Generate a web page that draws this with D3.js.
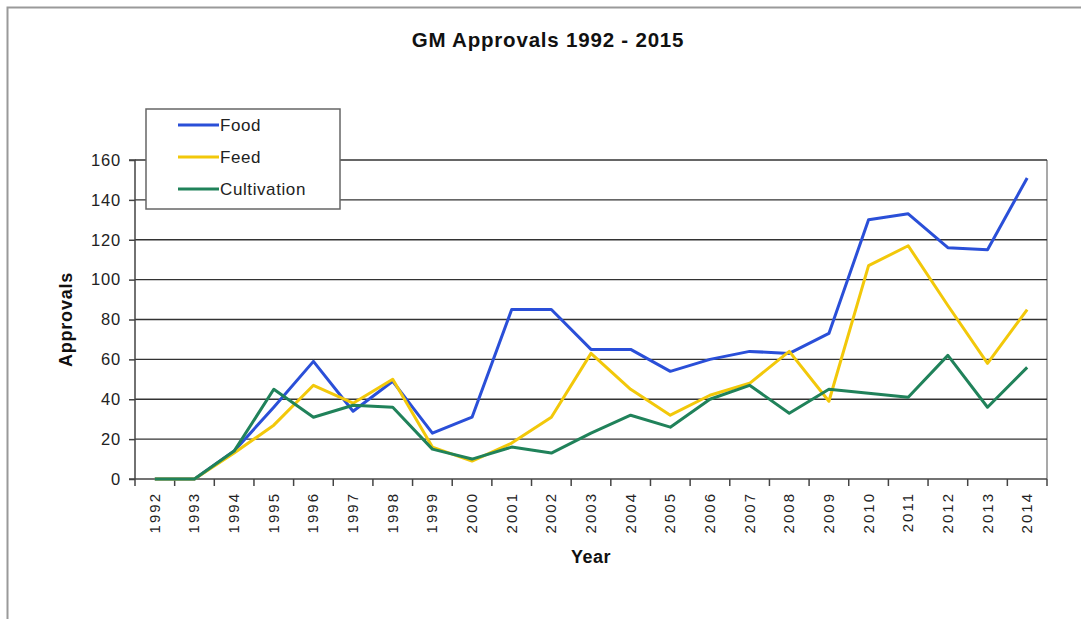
<!DOCTYPE html>
<html>
<head>
<meta charset="utf-8">
<script src="https://cdn.jsdelivr.net/npm/d3@7"></script>
<style>
  body { margin: 0; background: #fff; }
  text { font-family: 'Liberation Sans', Arial, sans-serif; }
</style>
</head>
<body>
<svg id="chart" width="1081" height="619"></svg>
<script>
const years = ['1992','1993','1994','1995','1996','1997','1998','1999','2000','2001','2002','2003',
  '2004','2005','2006','2007','2008','2009','2010','2011','2012','2013','2014']
const food = [0, 0, 14, 36, 59, 34, 49, 23, 31, 85, 85, 65, 65, 54, 60, 64, 63, 73, 130, 133, 116, 115, 151]
const feed = [0, 0, 13, 27, 47, 38, 50, 16, 9, 18, 31, 63, 45, 32, 42, 48, 64, 39, 107, 117, 87, 58, 85]
const cultivation = [0, 0, 14, 45, 31, 37, 36, 15, 10, 16, 13, 23, 32, 26, 40, 47, 33, 45, 43, 41, 62, 36, 56]
const yTicks = [0, 20, 40, 60, 80, 100, 120, 140, 160]

const series = [
  { name: 'Food', values: food, color: '#2a4fd8' },
  { name: 'Feed', values: feed, color: '#f2c80a' },
  { name: 'Cultivation', values: cultivation, color: '#20825a' }
]

const margin = { top: 160, right: 34, bottom: 140, left: 135 }
const width = 1081 - (margin.left + margin.right)
const height = 619 - (margin.top + margin.bottom)

const svg = d3.select('#chart')

// outer frame
svg.append('rect')
  .attr('x', 7.5).attr('y', 7.5)
  .attr('width', 1081).attr('height', 640)
  .attr('fill', 'none')
  .attr('stroke', '#9a9a9a')
  .attr('stroke-width', 2)

const xScale = d3.scaleBand()
  .domain(years)
  .range([margin.left, margin.left + width])

const yScale = d3.scaleLinear()
  .domain([0, 160])
  .range([margin.top + height, margin.top])

// plot frame right side
svg.append('line')
  .attr('x1', margin.left + width).attr('x2', margin.left + width)
  .attr('y1', margin.top).attr('y2', margin.top + height)
  .attr('stroke', '#8c8c8c')
  .attr('stroke-width', 1.5)

// gridlines
svg.append('g')
  .selectAll('line')
  .data(yTicks.filter(d => d > 0))
  .join('line')
  .attr('x1', margin.left)
  .attr('x2', margin.left + width)
  .attr('y1', d => yScale(d))
  .attr('y2', d => yScale(d))
  .attr('stroke', '#333')
  .attr('stroke-width', 1.3)

const leftAxis = d3.axisLeft(yScale)
  .tickValues(yTicks)
  .tickSize(6)
  .tickPadding(8)

const yAxis = svg.append('g')
  .attr('transform', `translate(${margin.left}, 0)`)
  .call(leftAxis)
yAxis.selectAll('text')
  .attr('font-size', 16.5)
  .attr('letter-spacing', 0.8)
  .attr('fill', '#222')
yAxis.selectAll('line, path').attr('stroke', '#444').attr('stroke-width', 1.5)
yAxis.select('.domain').attr('d', `M-6,${yScale(160)}H0V${yScale(0)}`)

// x axis: ticks at category boundaries, labels centred
const xAxis = svg.append('g')
  .attr('transform', `translate(0, ${margin.top + height})`)

xAxis.append('line')
  .attr('x1', margin.left - 6).attr('x2', margin.left + width)
  .attr('stroke', '#444').attr('stroke-width', 1.5)

xAxis.selectAll('.tick')
  .data(years.concat(['end']))
  .join('line')
  .attr('x1', (d, i) => margin.left + i * xScale.step())
  .attr('x2', (d, i) => margin.left + i * xScale.step())
  .attr('y1', 0).attr('y2', 7)
  .attr('stroke', '#444').attr('stroke-width', 1.5)

xAxis.selectAll('text')
  .data(years)
  .join('text')
  .text(d => d)
  .attr('transform', d => `translate(${xScale(d) + xScale.bandwidth() / 2 + 5}, 13) rotate(-90)`)
  .attr('text-anchor', 'end')
  .attr('font-size', 15)
  .attr('letter-spacing', 2)
  .attr('fill', '#222')

// lines
const linegen = d3.line()
  .x((d, i) => xScale(years[i]) + xScale.bandwidth() / 2)
  .y(d => yScale(d))
  .curve(d3.curveLinear)

const graph = svg.append('g')

graph.selectAll('path')
  .data(series)
  .join('path')
  .attr('d', d => linegen(d.values))
  .attr('fill', 'none')
  .attr('stroke', d => d.color)
  .attr('stroke-width', 3)
  .attr('stroke-linejoin', 'round')

// titles
svg.append('text')
  .text('GM Approvals 1992 - 2015')
  .attr('x', 548).attr('y', 47)
  .attr('text-anchor', 'middle')
  .attr('font-size', 20.5)
  .attr('letter-spacing', 0.8)
  .attr('font-weight', 'bold')
  .attr('fill', '#111')

svg.append('text')
  .text('Year')
  .attr('x', margin.left + width / 2).attr('y', 563)
  .attr('text-anchor', 'middle')
  .attr('font-size', 18)
  .attr('letter-spacing', 0.5)
  .attr('font-weight', 'bold')
  .attr('fill', '#111')

svg.append('text')
  .text('Approvals')
  .attr('transform', `translate(72, ${margin.top + height / 2}) rotate(-90)`)
  .attr('text-anchor', 'middle')
  .attr('font-size', 18)
  .attr('letter-spacing', 0.8)
  .attr('font-weight', 'bold')
  .attr('fill', '#111')

// legend
const legend = svg.append('g')
  .attr('transform', 'translate(146, 109)')

legend.append('rect')
  .attr('width', 194).attr('height', 100)
  .attr('fill', '#fff')
  .attr('stroke', '#666')
  .attr('stroke-width', 1.5)

const items = legend.selectAll('.item')
  .data(series)
  .join('g')
  .attr('transform', (d, i) => `translate(0, ${16 + i * 32})`)

items.append('line')
  .attr('x1', 32).attr('x2', 73)
  .attr('stroke', d => d.color)
  .attr('stroke-width', 3)

items.append('text')
  .text(d => d.name)
  .attr('x', 74).attr('y', 6)
  .attr('font-size', 17)
  .attr('letter-spacing', 0.6)
  .attr('fill', '#222')
</script>
</body>
</html>
